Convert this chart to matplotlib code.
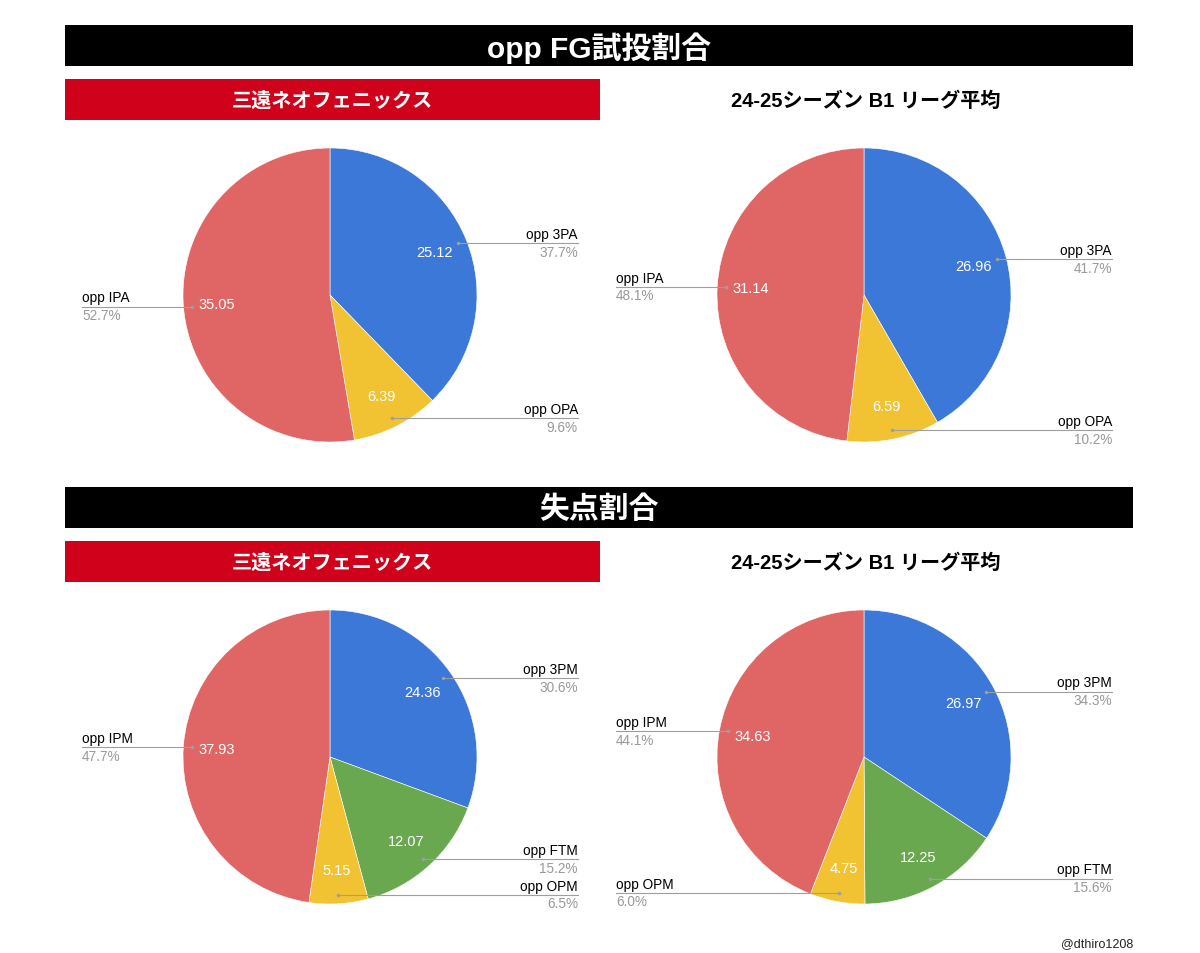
import matplotlib
matplotlib.use("Agg")
import matplotlib.pyplot as plt
from matplotlib.patches import Rectangle
import numpy as np

# ---------------- data ----------------
fga_labels = ["opp 3PA", "opp OPA", "opp IPA"]
fga_team = [25.12, 6.39, 35.05]
fga_league = [26.96, 6.59, 31.14]

pts_labels = ["opp 3PM", "opp FTM", "opp OPM", "opp IPM"]
pts_team = [24.36, 12.07, 5.15, 37.93]
pts_league = [26.97, 12.25, 4.75, 34.63]

section_titles = ["opp FG試投割合", "失点割合"]
team_name = "三遠ネオフェニックス"
league_name = "24-25シーズン B1 リーグ平均"
credit = "@dthiro1208"

# ---------------- styles ----------------
BLUE, YELLOW, RED, GREEN = "#3c78d8", "#f1c232", "#e06666", "#6aa84f"
fga_colors = [BLUE, YELLOW, RED]
pts_colors = [BLUE, GREEN, YELLOW, RED]
BANNER_RED = "#d0021b"
LATIN_CJK = ["Liberation Sans", "Noto Sans CJK JP", "DejaVu Sans"]
plt.rcParams["font.family"] = LATIN_CJK

W, H = 1200, 954
fig = plt.figure(figsize=(W / 100, H / 100), dpi=100)
fig.patch.set_facecolor("white")

bg = fig.add_axes([0, 0, 1, 1])
bg.set_xlim(0, W)
bg.set_ylim(H, 0)
bg.axis("off")

R = 147
LABEL_DX = 248 / R  # label column offset in pie units


def banner(y0, y1, x0, x1, color):
    bg.add_patch(Rectangle((x0, y0), x1 - x0, y1 - y0, facecolor=color, edgecolor="none"))


# section banners
for (y0, y1), title in zip([(26, 67), (488, 529)], section_titles):
    banner(y0, y1, 65, 1133, "black")
    bg.text(599, (y0 + y1) / 2 + 1.5, title, color="white", fontsize=21.5,
            fontweight="bold", ha="center", va="center", family=LATIN_CJK)

# team banners and league subtitles
for yc in [100.5, 562.5]:
    banner(yc - 20.5, yc + 20.5, 65, 600, BANNER_RED)
    bg.text(332, yc + 0.5, team_name, color="white", fontsize=14.5, fontweight="bold",
            ha="center", va="center", family=LATIN_CJK)
    bg.text(866, yc + 0.5, league_name, color="black", fontsize=14.5, fontweight="bold",
            ha="center", va="center", family=LATIN_CJK)

bg.text(1133, 944.5, credit, fontsize=9, ha="right", va="center", color="#222222")


def draw_pie(cx, cy, values, labels, colors):
    ax = fig.add_axes([(cx - R) / W, 1 - (cy + R) / H, 2 * R / W, 2 * R / H])
    total = sum(values)
    wedges, _, autotexts = ax.pie(
        values, colors=colors, startangle=90, counterclock=False,
        autopct=lambda p: f"{p * total / 100:.2f}", pctdistance=0.77,
        wedgeprops=dict(linewidth=0.4, edgecolor="white"),
        textprops=dict(color="white", fontsize=10.5),
    )
    ax.set_xlim(-1, 1)
    ax.set_ylim(-1, 1)
    ax.axis("off")
    for w, lab, v in zip(wedges, labels, values):
        mid = np.deg2rad((w.theta1 + w.theta2) / 2)
        dx, dy = 0.94 * np.cos(mid), 0.94 * np.sin(mid)
        side = 1 if np.cos(mid) >= 0 else -1
        xend = side * LABEL_DX
        ax.plot([dx, xend], [dy, dy], color="#9e9e9e", lw=0.8, clip_on=False)
        ax.plot([dx], [dy], "o", ms=1.5, color="#9e9e9e", clip_on=False)
        ha = "right" if side > 0 else "left"
        ax.text(xend, dy + 0.015, lab, fontsize=9.8, color="black", ha=ha,
                va="bottom", clip_on=False)
        ax.text(xend, dy - 0.01, f"{v / total * 100:.1f}%", fontsize=9.8,
                color="#999999", ha=ha, va="top", clip_on=False)


draw_pie(330, 296, fga_team, fga_labels, fga_colors)
draw_pie(864, 296, fga_league, fga_labels, fga_colors)
draw_pie(330, 758, pts_team, pts_labels, pts_colors)
draw_pie(864, 758, pts_league, pts_labels, pts_colors)

fig.savefig("out.png", dpi=100, facecolor="white")
